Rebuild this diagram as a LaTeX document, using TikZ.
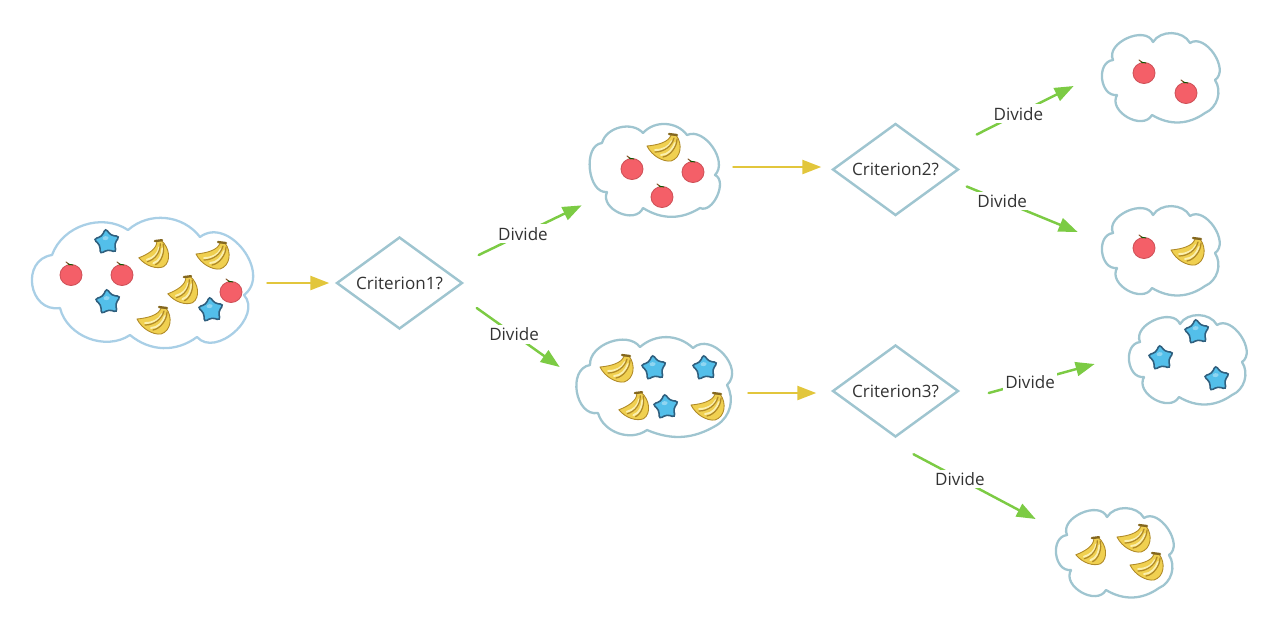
\documentclass[tikz,border=0pt]{standalone}
\usepackage{fontspec}
\setmainfont{Open Sans}
\usetikzlibrary{arrows.meta,shapes.geometric}
\definecolor{lobecol}{HTML}{9FC5D0}
\definecolor{lobefirst}{HTML}{A9CFE6}
\definecolor{splitcol}{HTML}{E2C63C}
\definecolor{dividecol}{HTML}{7CCB44}
\definecolor{applecol}{HTML}{F45F68}
\definecolor{starcol}{HTML}{53BFEA}
\definecolor{stardark}{HTML}{2F5F7E}
\definecolor{bananacol}{HTML}{F0D050}
\definecolor{bananalight}{HTML}{FBF0B0}
\definecolor{bananadark}{HTML}{B08A28}
\tikzset{
  question/.style={diamond,shape aspect=1.37,draw=lobecol,line width=1.4pt,inner sep=0pt,
    minimum width=2.52cm,minimum height=1.84cm,text=black!80,font=\fontsize{9.7pt}{11pt}\selectfont},
  cloudbox/.style={inner sep=0pt,minimum width=#1},
  cloudline/.style={draw=#1,line width=1.3pt,line join=round},
  splitline/.style={draw=splitcol,line width=1.4pt,-{Triangle[length=0.38cm,width=0.28cm]}},
  divideline/.style={draw=dividecol,line width=1.4pt,-{Triangle[length=0.38cm,width=0.28cm]}},
  dividelabel/.style={fill=white,inner sep=1.5pt,text=black!80,font=\fontsize{9.7pt}{11pt}\selectfont},
  lobe/.style 2 args={bend left=#1,looseness=#2},
  applepic/.pic={
    \draw[draw=applecol!85!black,fill=applecol,line width=0.5pt] (0,0) ellipse [x radius=11,y radius=10.5];
    \draw[draw=brown!70!black,line width=0.6pt] (-1,-10) -- (-5,-13);
    \draw[draw=green!35!black,line width=0.5pt] (-3,-11) -- (2,-10);
  },
  starpic/.pic={
    \draw[draw=stardark,fill=starcol,line width=0.9pt,rounded corners=2pt]
      (-90:14) -- (-54:7.5) -- (-18:14) -- (18:7.5) -- (54:14) -- (90:7.5)
      -- (126:14) -- (162:7.5) -- (198:14) -- (234:7.5) -- cycle;
    \fill[white,opacity=0.35] (-1,-4) ellipse [x radius=3,y radius=2];
  },
  bananapic/.pic={
    \draw[draw=bananadark,fill=bananacol,line width=0.5pt,line join=round]
      (8,-12) .. controls (6,-5) and (-5,-2) .. (-16,-1)
      .. controls (-11,9) and (0,15) .. (8,14)
      .. controls (18,11) and (20,-3) .. (13,-12) -- cycle;
    \draw[draw=bananalight,line width=1.1pt] (9,-6) .. controls (6,0) and (0,3) .. (-8,3);
    \draw[draw=bananalight,line width=1.1pt] (12,-4) .. controls (10,2) and (5,8) .. (-2,8);
    \draw[draw=bananadark,line width=0.7pt] (11,-9) .. controls (9,-1) and (1,5) .. (-8,5);
    \draw[draw=bananadark,line width=0.7pt] (14,-8) .. controls (14,0) and (7,9) .. (0,10);
    \draw[draw=bananadark!75!black,line width=1.3pt] (6,-13) -- (14,-12);
  },
}
\begin{document}
\begin{tikzpicture}[x=0.02cm,y=-0.02cm,line cap=round]
  \useasboundingbox (0,0) rectangle (1280,630);

  % Helper macro for the four small clouds
  \newcommand{\smallcloud}[3]{%
    \begin{scope}[shift={(#2,#3)}]
      \draw[cloudline=lobecol] (-43,17) to[lobe={90}{1.26}] (-47,-18) to[lobe={90}{1.1}] (-7,-36)
        to[lobe={60}{1}] (30,-35) to[lobe={90}{1.05}] (55,2) to[lobe={50}{1}] (45,35)
        to[lobe={33}{1}] (-8,37) to[lobe={90}{1.2}] (-43,17);
    \end{scope}
    \node[cloudbox=2.32cm,minimum height=1.82cm] (#1) at (#2,#3) {};
  }

  % Clouds
  \draw[cloudline=lobefirst] (60,308) to[lobe={90}{1.53}] (52,255) to[lobe={52}{1}] (128,230)
    to[lobe={47}{1}] (200,237) to[lobe={90}{1.25}] (244,295) to[lobe={90}{1.15}] (197,337)
    to[lobe={38}{1}] (130,335) to[lobe={55}{1}] (60,308);
  \node[cloudbox=4.42cm,minimum height=2.58cm] (cloudAll) at (142.5,283) {};
  \draw[cloudline=lobecol] (607,192) to[lobe={90}{1.02}] (602,143) to[lobe={62}{1}] (643,133)
    to[lobe={51}{1}] (687,135) to[lobe={80}{1}] (715,175) to[lobe={90}{1}] (700,208)
    to[lobe={32}{1}] (643,208) to[lobe={90}{1.22}] (607,192);
  \node[cloudbox=2.6cm,minimum height=1.88cm] (cloudUp) at (654,171) {};
  \draw[cloudline=lobecol] (598,413) to[lobe={90}{1.22}] (590,365) to[lobe={73}{1}] (640,347)
    to[lobe={42}{1}] (693,348) to[lobe={90}{1.25}] (727,385) to[lobe={43}{1}] (717,425)
    to[lobe={27}{1}] (647,430) to[lobe={55}{1}] (598,413);
  \node[cloudbox=3.16cm,minimum height=2cm] (cloudLow) at (654,386) {};
  \smallcloud{cloudApple}{1160}{78}
  \smallcloud{cloudMixed}{1160}{251}
  \smallcloud{cloudStar}{1187}{360}
  \smallcloud{cloudBanana}{1114}{553}

  % Criteria
  \node[question] (critOne) at (399.5,283) {Criterion1?};
  \node[question] (critTwo) at (895.5,169.5) {Criterion2?};
  \node[question] (critThree) at (895.5,391) {Criterion3?};

  % Yellow arrows
  \draw[splitline] ([shift={(14,0)}]cloudAll.east) -- ([shift={(-6,0)}]critOne.west);
  \draw[splitline] ([shift={(14,-4)}]cloudUp.east) -- ([shift={(-10,-2.5)}]critTwo.west);
  \draw[splitline] ([shift={(15,7)}]cloudLow.east) -- ([shift={(-15,2)}]critThree.west);

  % Green arrows
  \draw[divideline] ([shift={(15,-28)}]critOne.east) -- node[dividelabel,pos=.43] (divA) {Divide} ([shift={(-7,-13)}]cloudUp.south west);
  \draw[divideline] ([shift={(13,25)}]critOne.east) -- node[dividelabel,pos=.45] (divB) {Divide} ([shift={(-15,-19)}]cloudLow.west);
  \draw[divideline] ([shift={(17,-35)}]critTwo.east) -- node[dividelabel,pos=.43] (divC) {Divide} ([shift={(-28,8)}]cloudApple.west);
  \draw[divideline] ([shift={(7,17)}]critTwo.east) -- node[dividelabel,pos=.32] (divD) {Divide} ([shift={(-24,-19)}]cloudMixed.west);
  \draw[divideline] ([shift={(29,2)}]critThree.east) -- node[dividelabel,pos=.39] (divE) {Divide} ([shift={(-34,4)}]cloudStar.west);
  \draw[divideline] ([shift={(18,16)}]critThree.south) -- node[dividelabel,pos=.38] (divF) {Divide} ([shift={(-20,-34)}]cloudBanana.west);

  % Fruit
  \foreach \px/\py in {71/275,122/275,231/292,632/169,693/172,662/197,1144/73,1186/93,1144/248}
    \pic at (\px,\py) {applepic};
  \foreach \px/\py in {107/242,108/302,211/310,654/368,705/368,666/407,1197/332,1161/358,1217/379}
    \pic[rotate=6] at (\px,\py) {starpic};
  \foreach \px/\py in {212/255,153/320,663/147,616/368,707/406,1187/251,1133/538,1146/566}
    \pic at (\px,\py) {bananapic};
  \foreach \px/\py in {153/255,182/291,633/407,1090/552}
    \pic[rotate=15,xscale=.9] at (\px,\py) {bananapic};
\end{tikzpicture}
\end{document}
